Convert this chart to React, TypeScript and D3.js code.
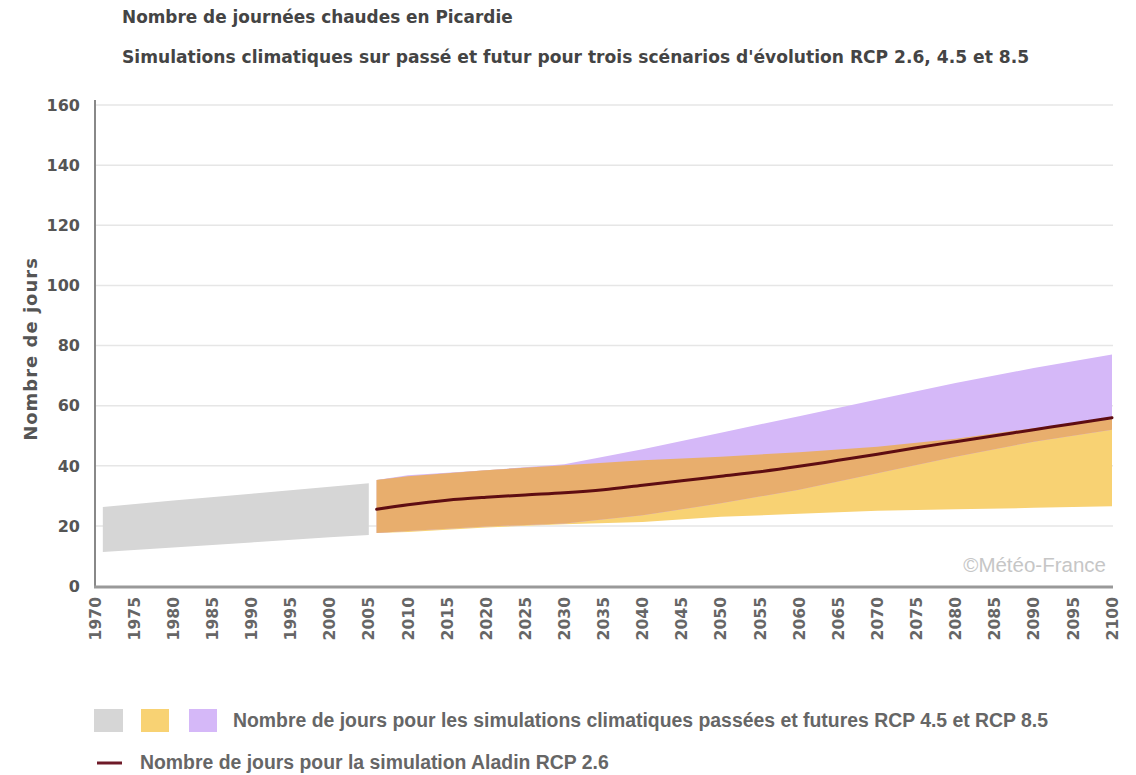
import React from "react";
import * as d3 from "d3";

// ---- Data ----
const histYears = [1971, 1980, 1990, 2000, 2005];
const histLow = [11.3, 12.8, 14.5, 16.2, 17.0];
const histHigh = [26.3, 28.4, 30.7, 33.0, 34.2];

const futYears = [2006, 2010, 2020, 2030, 2040, 2050, 2060, 2070, 2080, 2090, 2100];
const rcp45Low = [17.6, 18.0, 19.5, 20.5, 21.3, 23.0, 24.0, 25.0, 25.5, 26.0, 26.5];
const rcp45High = [35.3, 36.5, 38.5, 40.2, 41.8, 43.0, 44.5, 46.3, 49.0, 52.5, 55.5];
const rcp85Low = [17.6, 18.3, 19.8, 20.8, 23.5, 27.5, 32.0, 37.5, 43.0, 48.0, 52.0];
const rcp85High = [35.3, 36.8, 38.5, 40.5, 45.5, 51.0, 56.5, 62.0, 67.5, 72.5, 77.0];

const aladinYears = [2006, 2010, 2015, 2020, 2025, 2030, 2035, 2040, 2045, 2050, 2055, 2060, 2065, 2070, 2075, 2080, 2085, 2090, 2095, 2100];
const aladin26 = [25.5, 27.0, 28.5, 29.5, 30.3, 31.0, 32.0, 33.5, 35.0, 36.5, 38.0, 39.8, 41.8, 43.8, 46.0, 48.0, 50.0, 52.0, 54.0, 56.0];

const yTicks = [0, 20, 40, 60, 80, 100, 120, 140, 160];
const xTicks = d3.range(1970, 2101, 5);

const title = "Nombre de journées chaudes en Picardie";
const subtitle = "Simulations climatiques sur passé et futur pour trois scénarios d'évolution RCP 2.6, 4.5 et 8.5";
const yLabel = "Nombre de jours";
const legend1 = "Nombre de jours pour les simulations climatiques passées et futures RCP 4.5 et RCP 8.5";
const legend2 = "Nombre de jours pour la simulation Aladin RCP 2.6";
const watermark = "©Météo-France";

const C_GREY = "#d6d6d6";
const C_YEL = "#f8d273";
const C_PUR = "#d5b8f8";
const C_ORA = "#e8ae6d";
const C_LINE = "#5e0d12";

export default function App() {
  const x = d3.scaleLinear().domain([1970, 2100]).range([95, 1112]);
  const y = d3.scaleLinear().domain([0, 160]).range([586, 105]);

  const band = (xs: number[], lo: number[], hi: number[]) =>
    d3.area<number>()
      .x((_, i) => x(xs[i]))
      .y0((_, i) => y(lo[i]))
      .y1((_, i) => y(hi[i]))(xs.map((_, i) => i)) || "";

  const overLo = futYears.map((_, i) => Math.max(rcp45Low[i], rcp85Low[i]));
  const overHi = futYears.map((_, i) => Math.min(rcp45High[i], rcp85High[i]));

  const linePath = d3.line<number>()
    .x((_, i) => x(aladinYears[i]))
    .y((d) => y(d))
    .curve(d3.curveMonotoneX)(aladin26) || "";

  const font = "'DejaVu Sans', Verdana, sans-serif";
  const arial = "'Liberation Sans', Arial, sans-serif";

  return (
    <svg width={1136} height={775} style={{ position: "absolute", left: 0, top: 0, background: "#fff" }} fontFamily={font}>
      <text x={122} y={23} fontSize={16.9} fontWeight="bold" fill="#444">{title}</text>
      <text x={122} y={63} fontSize={17.1} fontWeight="bold" fill="#444">{subtitle}</text>

      {/* gridlines */}
      {yTicks.filter((t) => t > 0).map((t) => (
        <line key={t} x1={95} x2={1113} y1={y(t)} y2={y(t)} stroke="#e6e6e6" strokeWidth={1.5} />
      ))}

      {/* bands */}
      <path d={band(histYears, histLow, histHigh)} fill={C_GREY} />
      <path d={band(futYears, rcp45Low, rcp45High)} fill={C_YEL} />
      <path d={band(futYears, rcp85Low, rcp85High)} fill={C_PUR} />
      <path d={band(futYears, overLo, overHi)} fill={C_ORA} />
      <path d={linePath} fill="none" stroke={C_LINE} strokeWidth={3} strokeLinecap="round" />

      <text x={1106} y={572} textAnchor="end" fontSize={20.5} fill="#c6c6c6" fontFamily={arial}>{watermark}</text>

      {/* axes */}
      <line x1={95} x2={95} y1={100} y2={588} stroke="#888" strokeWidth={2} />
      <line x1={94} x2={1113} y1={587} y2={587} stroke="#999" strokeWidth={3} />

      {yTicks.map((t) => (
        <text key={t} x={80} y={y(t)} dy="0.36em" textAnchor="end" fontSize={16} fontWeight="bold" fill="#555">{t}</text>
      ))}
      {xTicks.map((t) => (
        <text key={t} transform={`translate(${x(t)},597) rotate(-90)`} dy="0.36em" textAnchor="end" fontSize={15.6} fontWeight="bold" fill="#666">{t}</text>
      ))}

      <text transform="translate(31,349) rotate(-90)" dy="0.36em" textAnchor="middle" fontSize={18} letterSpacing={1} fontWeight="bold" fill="#555">{yLabel}</text>

      {/* legend */}
      <rect x={94} y={709} width={29} height={23} fill={C_GREY} />
      <rect x={141} y={709} width={28} height={23} fill={C_YEL} />
      <rect x={189} y={709} width={28} height={23} fill={C_PUR} />
      <text x={233} y={727} fontSize={19.4} fontWeight="bold" fill="#666" fontFamily={arial}>{legend1}</text>
      <line x1={97} x2={122} y1={763} y2={763} stroke="#6e1a28" strokeWidth={3} />
      <text x={140} y={769} fontSize={19.4} fontWeight="bold" fill="#666" fontFamily={arial}>{legend2}</text>
    </svg>
  );
}
